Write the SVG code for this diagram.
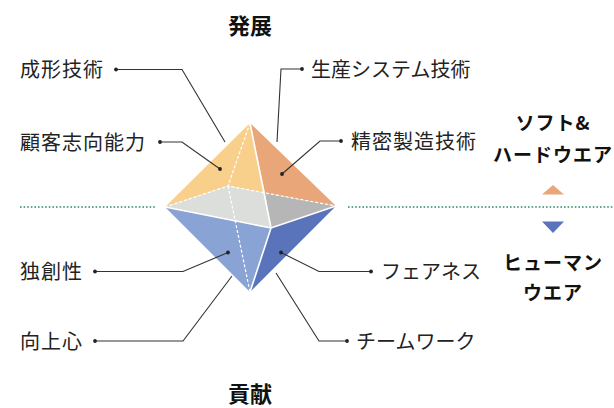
<svg xmlns="http://www.w3.org/2000/svg" width="614" height="408" viewBox="0 0 614 408">
  <style>
    .title { font-family: "Noto Sans CJK JP", "Noto Sans", sans-serif; font-size: 22px; font-weight: 700; fill: #111; text-anchor: middle; }
    .label { font-family: "Noto Sans CJK JP", "Noto Sans", sans-serif; font-size: 20px; font-weight: 400; fill: #222; letter-spacing: 1px; }
    .kana { letter-spacing: 0px; }
    .legend { font-family: "Noto Sans CJK JP", "Noto Sans", sans-serif; font-size: 19px; font-weight: 700; fill: #111; text-anchor: middle; letter-spacing: 1px; }
    .lead { fill: none; stroke: #333; stroke-width: 1.1; }
    .dot { fill: #222; }
    .edge { fill: none; stroke: #fff; stroke-width: 1.6; }
    .hidden { fill: none; stroke: #fff; stroke-width: 1.2; stroke-dasharray: 3 2; }
    .horizon { fill: none; stroke: #2E8B6E; stroke-width: 1.6; stroke-dasharray: 1.6 2; }
  </style>

  <!-- horizon separating upper and lower halves -->
  <g id="horizon">
    <line class="horizon" x1="20" y1="207" x2="156" y2="207"/>
    <line class="horizon" x1="348" y1="207" x2="614" y2="207"/>
  </g>

  <!-- octahedron -->
  <g id="octahedron">
    <polygon points="250,123 165,207 228,186 265,193" fill="#F9D08B"/>
    <polygon points="250,123 265,193 336,206" fill="#E8A679"/>
    <polygon points="165,207 228,186 265,193 271,228" fill="#DCDEDC"/>
    <polygon points="265,193 336,206 271,228" fill="#B5B6B5"/>
    <polygon points="165,207 271,228 250,292" fill="#8AA3D5"/>
    <polygon points="271,228 336,206 250,292" fill="#5A74BC"/>
    <path class="hidden" d="M250,123 L228,186 M165,207 L228,186 L336,206 M228,186 L250,292"/>
    <path class="edge" d="M250,123 L271,228 M165,207 L271,228 L336,206 M271,228 L250,292"/>
  </g>

  <!-- leader lines -->
  <g id="connectors">
    <polyline class="lead" points="116,69.5 182,69.5 225,142"/>
    <circle class="dot" cx="116" cy="69.5" r="1.9"/>
    <polyline class="lead" points="160,142 182,142 220,169"/>
    <circle class="dot" cx="160" cy="142" r="1.9"/>
    <circle class="dot" cx="220" cy="169" r="1.9"/>
    <polyline class="lead" points="302,69 281,69 277,142"/>
    <circle class="dot" cx="302" cy="69" r="1.9"/>
    <polyline class="lead" points="341,141 320,141 282,174"/>
    <circle class="dot" cx="341" cy="141" r="1.9"/>
    <circle class="dot" cx="282" cy="174" r="1.9"/>
    <polyline class="lead" points="95,271.5 183,271.5 228,252.5"/>
    <circle class="dot" cx="95" cy="271.5" r="1.9"/>
    <circle class="dot" cx="228" cy="252.5" r="1.9"/>
    <polyline class="lead" points="95,341 183,341 232,276"/>
    <circle class="dot" cx="95" cy="341" r="1.9"/>
    <polyline class="lead" points="281,252.5 319,271.5 371,271.5"/>
    <circle class="dot" cx="281" cy="252.5" r="1.9"/>
    <circle class="dot" cx="371" cy="271.5" r="1.9"/>
    <polyline class="lead" points="276,273 319,341 347,341"/>
    <circle class="dot" cx="347" cy="341" r="1.9"/>
  </g>

  <g id="title-top"><text class="title" x="250" y="34">発展</text></g>
  <g id="title-bottom"><text class="title" x="250" y="402">貢献</text></g>

  <g id="n-seikei"><text class="label" x="20" y="77">成形技術</text></g>
  <g id="n-kokyaku"><text class="label" x="20" y="149.5">顧客志向能力</text></g>
  <g id="n-seisan"><text class="label kana" x="311" y="77">生産システム技術</text></g>
  <g id="n-seimitsu"><text class="label" x="351" y="148.5">精密製造技術</text></g>
  <g id="n-dokuso"><text class="label" x="20" y="279">独創性</text></g>
  <g id="n-kojo"><text class="label" x="20" y="349">向上心</text></g>
  <g id="n-fairness"><text class="label kana" x="381" y="279">フェアネス</text></g>
  <g id="n-teamwork"><text class="label kana" x="356" y="348.5">チームワーク</text></g>

  <!-- legend -->
  <g id="legend-hard">
    <text class="legend" x="553" y="130">ソフト&amp;</text>
    <text class="legend" x="553" y="162">ハードウエア</text>
    <polygon points="553,185 564,194.5 542,194.5" fill="#E8A679"/>
  </g>
  <g id="legend-human">
    <polygon points="542,221.5 564,221.5 553,233" fill="#5A74BC"/>
    <text class="legend" x="553" y="270">ヒューマン</text>
    <text class="legend" x="553" y="300">ウエア</text>
  </g>
</svg>
